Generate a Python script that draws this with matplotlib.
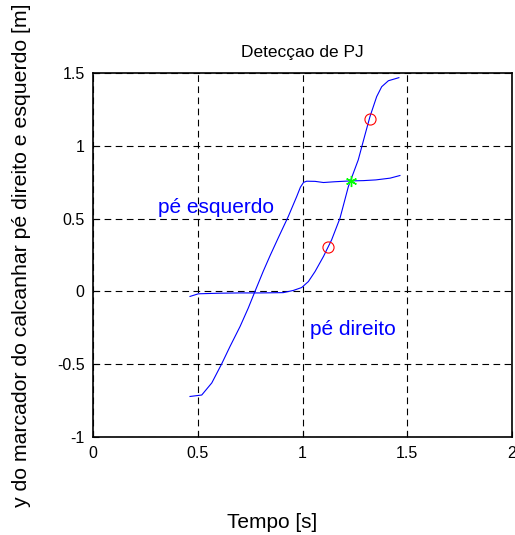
import matplotlib
matplotlib.use("Agg")
import matplotlib.pyplot as plt

plt.rcParams['font.family'] = ['Liberation Sans', 'DejaVu Sans']

# Heel marker trajectory of the left foot (pé esquerdo)
t_esq = [0.463, 0.519, 0.567, 0.614, 0.654, 0.702, 0.741, 0.773, 0.813, 0.845,
         0.885, 0.932, 0.972, 0.99, 1.005, 1.02, 1.06, 1.1, 1.15, 1.227, 1.29, 1.35,
         1.418, 1.465]
y_esq = [-0.72, -0.71, -0.627, -0.497, -0.377, -0.24, -0.114, 0.0, 0.14, 0.245,
         0.37, 0.514, 0.65, 0.715, 0.748, 0.756, 0.755, 0.747, 0.752, 0.758, 0.76,
         0.765, 0.777, 0.795]

# Heel marker trajectory of the right foot (pé direito)
t_dir = [0.463, 0.503, 0.6, 0.7, 0.8, 0.908, 0.956, 0.996, 1.028, 1.06, 1.1,
         1.139, 1.179, 1.219, 1.266, 1.298, 1.322, 1.354, 1.378, 1.41, 1.46]
y_dir = [-0.034, -0.016, -0.012, -0.01, -0.01, -0.008, 0.007, 0.027, 0.068,
         0.137, 0.24, 0.354, 0.503, 0.72, 0.902, 1.073, 1.199, 1.336, 1.404,
         1.445, 1.466]

# Detected events
t_circ = [1.122, 1.322]
y_circ = [0.306, 1.183]
t_star = [1.232]
y_star = [0.757]

x_ticks = [0, 0.5, 1, 1.5, 2]
x_labels = ['0', '0.5', '1', '1.5', '2']
y_ticks = [-1, -0.5, 0, 0.5, 1, 1.5]
y_labels = ['-1', '-0.5', '0', '0.5', '1', '1.5']

fig = plt.figure(figsize=(5.15, 5.35), dpi=100)
ax = fig.add_axes([0.1806, 0.1826, 0.8136, 0.6815])

ax.plot(t_esq, y_esq, color='#0000ff', lw=0.8)
ax.plot(t_dir, y_dir, color='#0000ff', lw=0.8)
ax.plot(t_circ, y_circ, linestyle='none', marker='o', markersize=8,
        markerfacecolor='none', markeredgecolor='#ff0000', markeredgewidth=0.8)
ax.plot(t_star, y_star, linestyle='none', marker=(6, 2, 0), markersize=8,
        markeredgecolor='#00ff00', color='#00ff00', markeredgewidth=1.0)

ax.text(0.31, 0.573, 'pé esquerdo', color='#0000ff', fontsize=15, va='center', ha='left')
ax.text(1.036, -0.262, 'pé direito', color='#0000ff', fontsize=15, va='center', ha='left')

ax.set_xlim(0, 2)
ax.set_ylim(-1, 1.5)
ax.set_xticks(x_ticks)
ax.set_xticklabels(x_labels)
ax.set_yticks(y_ticks)
ax.set_yticklabels(y_labels)
ax.tick_params(direction='in', length=4, width=0.8, labelsize=11.5, pad=6,
               top=False, right=False)
ax.grid(True, color='black', linestyle=(0, (6, 4)), linewidth=0.8)
for s in ax.spines.values():
    s.set_linewidth(1.2)

ax.set_title('Detecçao de PJ', fontsize=12.5, pad=11)
fig.text(0.041, 0.5226, 'y do marcador do calcanhar pé direito e esquerdo [m]',
         rotation=90, ha='center', va='center', fontsize=15.3)
fig.text(0.528, 0.024, 'Tempo [s]', ha='center', va='center', fontsize=15)

fig.savefig('out.png', dpi=100)
